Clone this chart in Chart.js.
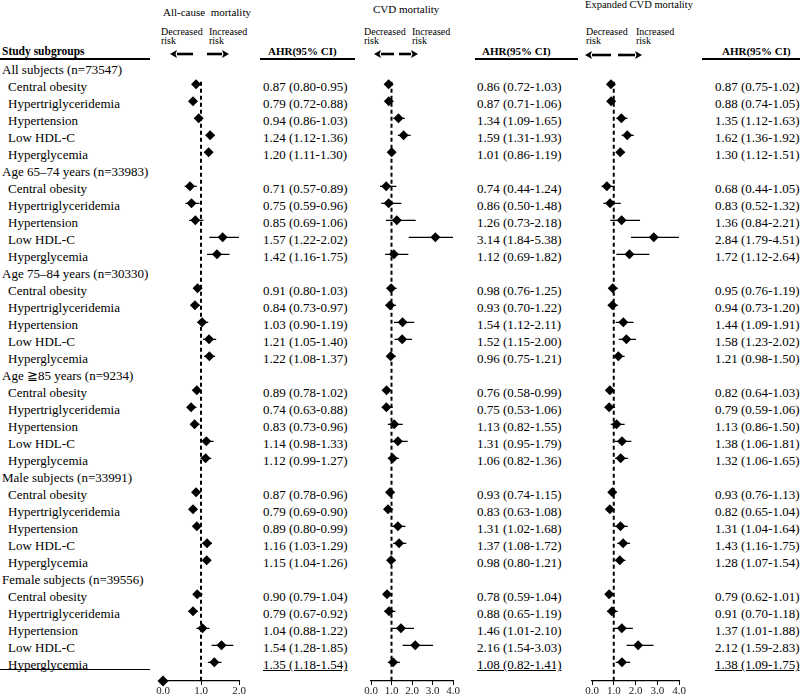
<!DOCTYPE html>
<html><head><meta charset="utf-8">
<script src="https://cdn.jsdelivr.net/npm/chart.js@4.4.1/dist/chart.umd.min.js"></script>
<style>
body{margin:0;background:#fff;}
#wrap{position:relative;width:800px;height:698px;overflow:hidden;background:#fff;font-family:"Liberation Serif","Times New Roman",serif;color:#000;}
.t{position:absolute;white-space:pre;line-height:17px;height:17px;font-size:13px;}
.s{position:absolute;white-space:pre;}
canvas{position:absolute;top:0;}
svg{position:absolute;left:0;top:0;}
</style></head><body><div id="wrap">
<svg width="800" height="698" id="deco"></svg>
</div>
<script>
// ---------------- data ----------------
const groups = ["All subjects (n=73547)","Age 65–74 years (n=33983)","Age 75–84 years (n=30330)","Age ≧85 years (n=9234)","Male subjects (n=33991)","Female subjects (n=39556)"];
const factors = ["Central obesity","Hypertriglyceridemia","Hypertension","Low HDL-C","Hyperglycemia"];

const allCauseAHR = [0.87,0.79,0.94,1.24,1.20, 0.71,0.75,0.85,1.57,1.42, 0.91,0.84,1.03,1.21,1.22, 0.89,0.74,0.83,1.14,1.12, 0.87,0.79,0.89,1.16,1.15, 0.90,0.79,1.04,1.54,1.35];
const allCauseLo  = [0.80,0.72,0.86,1.12,1.11, 0.57,0.59,0.69,1.22,1.16, 0.80,0.73,0.90,1.05,1.08, 0.78,0.63,0.73,0.98,0.99, 0.78,0.69,0.80,1.03,1.04, 0.79,0.67,0.88,1.28,1.18];
const allCauseHi  = [0.95,0.88,1.03,1.36,1.30, 0.89,0.96,1.06,2.02,1.75, 1.03,0.97,1.19,1.40,1.37, 1.02,0.88,0.96,1.33,1.27, 0.96,0.90,0.99,1.29,1.26, 1.04,0.92,1.22,1.85,1.54];

const cvdAHR = [0.86,0.87,1.34,1.59,1.01, 0.74,0.86,1.26,3.14,1.12, 0.98,0.93,1.54,1.52,0.96, 0.76,0.75,1.13,1.31,1.06, 0.93,0.83,1.31,1.37,0.98, 0.78,0.88,1.46,2.16,1.08];
const cvdLo  = [0.72,0.71,1.09,1.31,0.86, 0.44,0.50,0.73,1.84,0.69, 0.76,0.70,1.12,1.15,0.75, 0.58,0.53,0.82,0.95,0.82, 0.74,0.63,1.02,1.08,0.80, 0.59,0.65,1.01,1.54,0.82];
const cvdHi  = [1.03,1.06,1.65,1.93,1.19, 1.24,1.48,2.18,5.38,1.82, 1.25,1.22,2.11,2.00,1.21, 0.99,1.06,1.55,1.79,1.36, 1.15,1.08,1.68,1.72,1.21, 1.04,1.19,2.10,3.03,1.41];

const expAHR = [0.87,0.88,1.35,1.62,1.30, 0.68,0.83,1.36,2.84,1.72, 0.95,0.94,1.44,1.58,1.21, 0.82,0.79,1.13,1.38,1.32, 0.93,0.82,1.31,1.43,1.28, 0.79,0.91,1.37,2.12,1.38];
const expLo  = [0.75,0.74,1.12,1.36,1.12, 0.44,0.52,0.84,1.79,1.12, 0.76,0.73,1.09,1.23,0.98, 0.64,0.59,0.86,1.06,1.06, 0.76,0.65,1.04,1.16,1.07, 0.62,0.70,1.01,1.59,1.09];
const expHi  = [1.02,1.05,1.63,1.92,1.51, 1.05,1.32,2.21,4.51,2.64, 1.19,1.20,1.91,2.02,1.50, 1.03,1.06,1.50,1.81,1.65, 1.13,1.04,1.64,1.75,1.54, 1.01,1.18,1.88,2.83,1.75];

const allCauseTicks = [0,1,2];
const cvdTicks = [0,1,2,3,4];
const expTicks = [0,1,2,3,4];
const referenceValue = [1];
const allCauseAxisMarker = [0];

// ---------------- layout ----------------
const wrap = document.getElementById('wrap');
const ROW0 = 67.3, ROWH = 17.0, AXIS_ROW = 36.1, TOP_ROW = -1;
const rowY = r => ROW0 + ROWH * r;
const itemRow = i => Math.floor(i / 5) * 6 + 1 + (i % 5);
const SERIF = '"Liberation Serif","Times New Roman",serif';

function txt(s, x, yc, opts) {
  const d = document.createElement('div');
  d.className = opts && opts.cls ? opts.cls : 't';
  d.textContent = s;
  d.style.left = x + 'px';
  const fs = (opts && opts.size) || 13;
  const lh = (opts && opts.lh) || 17;
  d.style.fontSize = fs + 'px';
  d.style.lineHeight = lh + 'px';
  d.style.top = (yc - lh / 2) + 'px';
  if (opts && opts.bold) d.style.fontWeight = 'bold';
  if (opts && opts.underline) d.style.textDecoration = 'underline';
  wrap.appendChild(d);
}

// titles
txt("All-cause  mortality", 163, 12, {cls:'s', size:11, lh:13});
txt("CVD mortality", 373, 9, {cls:'s', size:11, lh:13});
txt("Expanded CVD mortality", 585, 5, {cls:'s', size:10.5, lh:12});
// risk labels
[[161,209],[364,412],[586,636]].forEach(([a,b]) => {
  txt("Decreased", a, 32, {cls:'s', size:10, lh:10});
  txt("risk", a, 41, {cls:'s', size:10, lh:10});
  txt("Increased", b, 32, {cls:'s', size:10, lh:10});
  txt("risk", b, 41, {cls:'s', size:10, lh:10});
});
// column headers
txt("Study subgroups", 2, 51, {cls:'s', size:11.5, lh:14, bold:true});
txt("AHR(95% CI)", 268, 51, {cls:'s', size:11, lh:14, bold:true});
txt("AHR(95% CI)", 482, 51, {cls:'s', size:11, lh:14, bold:true});
txt("AHR(95% CI)", 722, 51, {cls:'s', size:11, lh:14, bold:true});

// rows
const fmt = (v, lo, hi) => `${v.toFixed(2)} (${lo.toFixed(2)}-${hi.toFixed(2)})`;
groups.forEach((g, gi) => txt(g, 2, rowY(gi * 6) + 2.5));
allCauseAHR.forEach((v, i) => {
  const r = itemRow(i), y = rowY(r) + 2.5, last = i === allCauseAHR.length - 1;
  txt(factors[i % 5], 8, y);
  txt(fmt(allCauseAHR[i], allCauseLo[i], allCauseHi[i]), 263, y, {underline:last});
  txt(fmt(cvdAHR[i], cvdLo[i], cvdHi[i]), 477, y, {underline:last});
  txt(fmt(expAHR[i], expLo[i], expHi[i]), 715, y, {underline:last});
});

// decoration lines and arrows
const svg = document.getElementById('deco');
let sv = '';
[[0,150],[260,355],[475,578],[702,800]].forEach(([a,b]) => sv += `<line x1="${a}" y1="59" x2="${b}" y2="59" stroke="#000" stroke-width="2"/>`);
sv += `<line x1="0" y1="669.5" x2="150" y2="669.5" stroke="#000" stroke-width="1"/>`;
function arrow(tail, head, y) {
  const dir = head > tail ? 1 : -1;
  const base = head - dir * 7;
  return `<line x1="${tail}" y1="${y}" x2="${base}" y2="${y}" stroke="#000" stroke-width="2.6"/>` +
         `<polygon points="${head},${y} ${base},${y-4} ${base+dir*1.5},${y} ${base},${y+4}" fill="#000"/>`;
}
sv += arrow(193,170,54) + arrow(207,229,54);
sv += arrow(394,374,54) + arrow(399,418,54);
sv += arrow(611,585,55) + arrow(618,642,55);
svg.innerHTML = sv;

// ---------------- charts ----------------
Chart.defaults.font.family = SERIF;
function panel(L, R, ticks, ahr, lo, hi, marker) {
  const pad = 20;
  const cv = document.createElement('canvas');
  const w = (R - L) + 2 * pad;
  cv.width = w; cv.height = 698;
  cv.style.left = (L - pad) + 'px';
  cv.style.width = w + 'px'; cv.style.height = '698px';
  wrap.appendChild(cv);
  const datasets = [];
  datasets.push({
    data: ahr.map((v, i) => ({x: v, y: itemRow(i)})),
    showLine: false, pointStyle: 'rectRot', pointRadius: 5, pointHoverRadius: 5,
    backgroundColor: '#000', borderColor: '#000', pointBorderWidth: 0, order: 0
  });
  if (marker) datasets.push({
    data: marker.map(v => ({x: v, y: AXIS_ROW})),
    showLine: false, pointStyle: 'rectRot', pointRadius: 5.5,
    backgroundColor: '#000', borderColor: '#000', pointBorderWidth: 0, clip: false, order: 0
  });
  ahr.forEach((v, i) => datasets.push({
    data: [{x: lo[i], y: itemRow(i)}, {x: hi[i], y: itemRow(i)}],
    borderColor: '#000', borderWidth: 1.3, pointRadius: 0, order: 2
  }));
  datasets.push({
    data: referenceValue.flatMap(v => [{x: v, y: 0.85}, {x: v, y: AXIS_ROW}]),
    borderColor: '#000', borderWidth: 2, borderDash: [4, 3], pointRadius: 0, order: 1
  });
  new Chart(cv, {
    type: 'line',
    data: {datasets},
    options: {
      responsive: false, animation: false, devicePixelRatio: 1,
      layout: {padding: {left: pad, right: pad, top: rowY(TOP_ROW), bottom: 0}},
      plugins: {legend: {display: false}, tooltip: {enabled: false}},
      elements: {line: {tension: 0}},
      events: [],
      scales: {
        x: {
          type: 'linear', min: ticks[0], max: ticks[ticks.length - 1], position: 'bottom',
          afterFit: s => { s.height = 698 - rowY(AXIS_ROW); },
          afterBuildTicks: s => { s.ticks = ticks.map(v => ({value: v})); },
          ticks: {callback: v => Number(v).toFixed(1), color: '#222', font: {size: 11, family: SERIF}, padding: 0, maxRotation: 0, autoSkip: false},
          grid: {display: true, drawOnChartArea: false, drawTicks: true, tickLength: 4, color: '#000', lineWidth: 1},
          border: {display: true, color: '#000', width: 1.2}
        },
        y: {type: 'linear', min: TOP_ROW, max: AXIS_ROW, reverse: true, display: false}
      }
    }
  });
}
panel(163, 239, allCauseTicks, allCauseAHR, allCauseLo, allCauseHi, allCauseAxisMarker);
panel(371, 453, cvdTicks, cvdAHR, cvdLo, cvdHi, null);
panel(592, 679, expTicks, expAHR, expLo, expHi, null);
</script>
</body></html>
